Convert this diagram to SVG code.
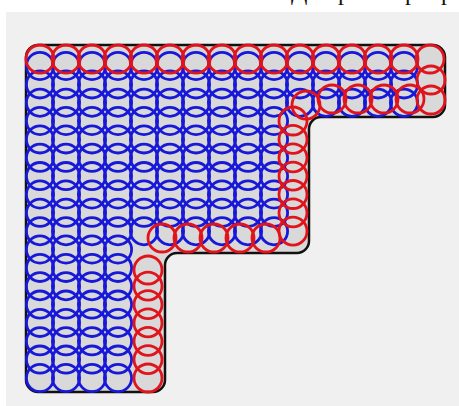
<svg xmlns="http://www.w3.org/2000/svg" width="459" height="406" viewBox="0 0 459 406">
<style>
.b{fill:none;stroke:#1818d8;stroke-width:2.8}
.r{fill:none;stroke:#e0141c;stroke-width:2.8}
.t{font-family:"Liberation Serif","DejaVu Serif",serif;font-size:24px;fill:#111}
</style>
<defs>
<circle id="cb" r="13.6" class="b"/>
<circle id="cr" r="14" class="r"/>
</defs>
<rect x="0" y="0" width="459" height="406" fill="#ffffff"/>
<rect x="6" y="12" width="453" height="394" fill="#f0f0f0"/>
<text class="t" x="291" y="0">Д</text>
<text class="t" x="338" y="0">р</text>
<text class="t" x="405" y="0">р</text>
<text class="t" x="441" y="0">р</text>
<path d="M38,45 H433 A12,12 0 0 1 445,57 V105 A12,12 0 0 1 433,117 H321 A12,12 0 0 0 309,129 V241 A12,12 0 0 1 297,253 H177 A12,12 0 0 0 165,265 V380 A12,12 0 0 1 153,392 H38 A12,12 0 0 1 26,380 V57 A12,12 0 0 1 38,45 Z" fill="#d9d9d9" stroke="#111" stroke-width="2.5"/>
<g id="blue">
<g id="brow0" transform="translate(0,66)"><use href="#cb" x="40"/><use href="#cb" x="66"/><use href="#cb" x="92"/><use href="#cb" x="118"/><use href="#cb" x="144"/><use href="#cb" x="170"/><use href="#cb" x="196"/><use href="#cb" x="222"/><use href="#cb" x="248"/><use href="#cb" x="274"/><use href="#cb" x="300"/><use href="#cb" x="326"/><use href="#cb" x="352"/><use href="#cb" x="378"/><use href="#cb" x="404"/></g>
<g id="brow1" transform="translate(0,84.4)"><use href="#cb" x="40"/><use href="#cb" x="66"/><use href="#cb" x="92"/><use href="#cb" x="118"/><use href="#cb" x="144"/><use href="#cb" x="170"/><use href="#cb" x="196"/><use href="#cb" x="222"/><use href="#cb" x="248"/><use href="#cb" x="274"/><use href="#cb" x="300"/><use href="#cb" x="326"/><use href="#cb" x="352"/><use href="#cb" x="378"/><use href="#cb" x="404"/></g>
<g id="brow2" transform="translate(0,102.7)"><use href="#cb" x="40"/><use href="#cb" x="66"/><use href="#cb" x="92"/><use href="#cb" x="118"/><use href="#cb" x="144"/><use href="#cb" x="170"/><use href="#cb" x="196"/><use href="#cb" x="222"/><use href="#cb" x="248"/><use href="#cb" x="274"/><use href="#cb" x="300"/><use href="#cb" x="326"/><use href="#cb" x="352"/><use href="#cb" x="378"/><use href="#cb" x="404"/></g>
<g id="brow3" transform="translate(0,121)"><use href="#cb" x="40"/><use href="#cb" x="66"/><use href="#cb" x="92"/><use href="#cb" x="118"/><use href="#cb" x="144"/><use href="#cb" x="170"/><use href="#cb" x="196"/><use href="#cb" x="222"/><use href="#cb" x="248"/><use href="#cb" x="274"/></g>
<g id="brow4" transform="translate(0,139.4)"><use href="#cb" x="40"/><use href="#cb" x="66"/><use href="#cb" x="92"/><use href="#cb" x="118"/><use href="#cb" x="144"/><use href="#cb" x="170"/><use href="#cb" x="196"/><use href="#cb" x="222"/><use href="#cb" x="248"/><use href="#cb" x="274"/></g>
<g id="brow5" transform="translate(0,157.8)"><use href="#cb" x="40"/><use href="#cb" x="66"/><use href="#cb" x="92"/><use href="#cb" x="118"/><use href="#cb" x="144"/><use href="#cb" x="170"/><use href="#cb" x="196"/><use href="#cb" x="222"/><use href="#cb" x="248"/><use href="#cb" x="274"/></g>
<g id="brow6" transform="translate(0,176.1)"><use href="#cb" x="40"/><use href="#cb" x="66"/><use href="#cb" x="92"/><use href="#cb" x="118"/><use href="#cb" x="144"/><use href="#cb" x="170"/><use href="#cb" x="196"/><use href="#cb" x="222"/><use href="#cb" x="248"/><use href="#cb" x="274"/></g>
<g id="brow7" transform="translate(0,194.5)"><use href="#cb" x="40"/><use href="#cb" x="66"/><use href="#cb" x="92"/><use href="#cb" x="118"/><use href="#cb" x="144"/><use href="#cb" x="170"/><use href="#cb" x="196"/><use href="#cb" x="222"/><use href="#cb" x="248"/><use href="#cb" x="274"/></g>
<g id="brow8" transform="translate(0,212.8)"><use href="#cb" x="40"/><use href="#cb" x="66"/><use href="#cb" x="92"/><use href="#cb" x="118"/><use href="#cb" x="144"/><use href="#cb" x="170"/><use href="#cb" x="196"/><use href="#cb" x="222"/><use href="#cb" x="248"/><use href="#cb" x="274"/></g>
<g id="brow9" transform="translate(0,231.2)"><use href="#cb" x="40"/><use href="#cb" x="66"/><use href="#cb" x="92"/><use href="#cb" x="118"/><use href="#cb" x="144"/><use href="#cb" x="170"/><use href="#cb" x="196"/><use href="#cb" x="222"/><use href="#cb" x="248"/><use href="#cb" x="274"/></g>
<g id="brow10" transform="translate(0,249.5)"><use href="#cb" x="40"/><use href="#cb" x="66"/><use href="#cb" x="92"/><use href="#cb" x="118"/></g>
<g id="brow11" transform="translate(0,267.9)"><use href="#cb" x="40"/><use href="#cb" x="66"/><use href="#cb" x="92"/><use href="#cb" x="118"/></g>
<g id="brow12" transform="translate(0,286.2)"><use href="#cb" x="40"/><use href="#cb" x="66"/><use href="#cb" x="92"/><use href="#cb" x="118"/></g>
<g id="brow13" transform="translate(0,304.6)"><use href="#cb" x="40"/><use href="#cb" x="66"/><use href="#cb" x="92"/><use href="#cb" x="118"/></g>
<g id="brow14" transform="translate(0,322.9)"><use href="#cb" x="40"/><use href="#cb" x="66"/><use href="#cb" x="92"/><use href="#cb" x="118"/></g>
<g id="brow15" transform="translate(0,341.3)"><use href="#cb" x="40"/><use href="#cb" x="66"/><use href="#cb" x="92"/><use href="#cb" x="118"/></g>
<g id="brow16" transform="translate(0,359.6)"><use href="#cb" x="40"/><use href="#cb" x="66"/><use href="#cb" x="92"/><use href="#cb" x="118"/></g>
<g id="brow17" transform="translate(0,378)"><use href="#cb" x="40"/><use href="#cb" x="66"/><use href="#cb" x="92"/><use href="#cb" x="118"/></g>
</g>
<g id="red">
<g id="rtop" transform="translate(0,59)"><use href="#cr" x="40"/><use href="#cr" x="66"/><use href="#cr" x="92"/><use href="#cr" x="118"/><use href="#cr" x="144"/><use href="#cr" x="170"/><use href="#cr" x="196"/><use href="#cr" x="222"/><use href="#cr" x="248"/><use href="#cr" x="274"/><use href="#cr" x="300"/><use href="#cr" x="326"/><use href="#cr" x="352"/><use href="#cr" x="378"/><use href="#cr" x="404"/><use href="#cr" x="430"/></g>
<g id="rright"><use href="#cr" x="431" y="80"/><use href="#cr" x="431" y="100"/></g>
<g id="rarm" transform="translate(0,99)"><use href="#cr" x="306" y="6"/><use href="#cr" x="332"/><use href="#cr" x="358"/><use href="#cr" x="384"/><use href="#cr" x="410"/></g>
<g id="rvert"><use href="#cr" x="293" y="121"/><use href="#cr" x="293" y="139.4"/><use href="#cr" x="293" y="157.8"/><use href="#cr" x="293" y="176.1"/><use href="#cr" x="293" y="194.5"/><use href="#cr" x="293" y="212.8"/><use href="#cr" x="293" y="231.2"/></g>
<g id="rstep" transform="translate(0,238)"><use href="#cr" x="162"/><use href="#cr" x="188"/><use href="#cr" x="214"/><use href="#cr" x="240"/><use href="#cr" x="266"/></g>
<g id="rlow"><use href="#cr" x="148" y="270"/><use href="#cr" x="148" y="286.2"/><use href="#cr" x="148" y="304.6"/><use href="#cr" x="148" y="322.9"/><use href="#cr" x="148" y="341.3"/><use href="#cr" x="148" y="359.6"/><use href="#cr" x="148" y="378"/></g>
</g>
</svg>
